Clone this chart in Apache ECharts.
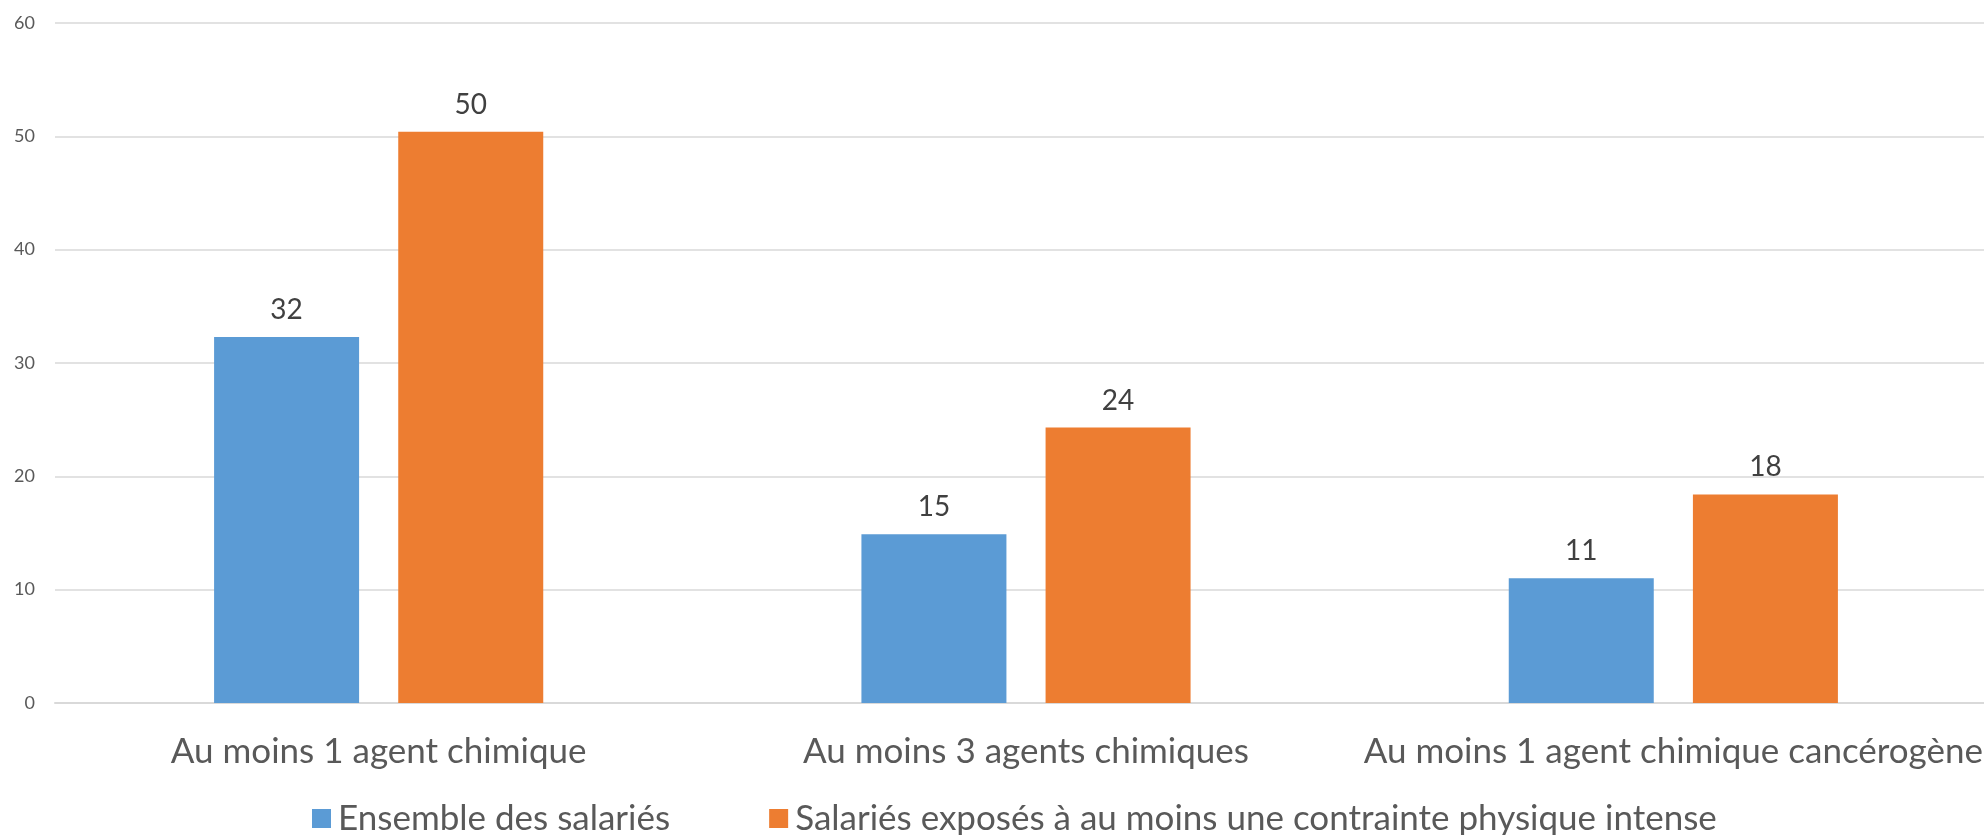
<!DOCTYPE html>
<html><head><meta charset="utf-8">
<script src="https://cdn.jsdelivr.net/npm/echarts@6/dist/echarts.min.js"></script>
<style>html,body{margin:0;padding:0;background:#fff;overflow:hidden;width:1984px;height:835px}#c{width:1997px;height:835px}</style>
</head><body><div id="c"></div>
<script>
const categories = ["Au moins 1 agent chimique", "Au moins 3 agents chimiques", "Au moins 1 agent chimique cancérogène"];
const seriesNames = ["Ensemble des salariés", "Salariés exposés à au moins une contrainte physique intense"];
const ensemble = [32.3, 14.9, 11.0];
const exposes = [50.4, 24.3, 18.4];
const yTicks = [0, 10, 20, 30, 40, 50, 60];

const font = "Lato, 'Open Sans', sans-serif";
const chart = echarts.init(document.getElementById('c'), null, {renderer: 'canvas'});
const lbl = {show: true, position: 'top', distance: 13, color: '#404040', fontSize: 28, fontFamily: font,
  formatter: p => Math.round(p.value)};
chart.setOption({
  animation: false,
  textStyle: {fontFamily: font},
  grid: {left: 55, right: 0, top: 23, bottom: 132, containLabel: false},
  legend: {
    data: seriesNames, bottom: -6, left: 307, icon: 'rect', itemWidth: 19, itemHeight: 19,
    itemGap: 99, textStyle: {fontSize: 35, color: '#595959', fontFamily: font, padding: [0, 0, 0, 2]}
  },
  xAxis: {
    type: 'category', data: categories,
    axisLine: {lineStyle: {color: '#d9d9d9', width: 2}},
    axisTick: {show: false},
    axisLabel: {color: '#595959', fontSize: 35, fontFamily: font, margin: 31, interval: 0}
  },
  yAxis: {
    type: 'value', min: yTicks[0], max: yTicks[yTicks.length - 1], interval: 10,
    axisLine: {show: false}, axisTick: {show: false},
    splitLine: {lineStyle: {color: '#d9d9d9', width: 1.5}},
    axisLabel: {color: '#595959', fontSize: 18, fontFamily: font, margin: 20}
  },
  series: [
    {name: seriesNames[0], type: 'bar', data: ensemble, barWidth: '22.4%', barGap: '27%',
     itemStyle: {color: '#5b9bd5'}, label: lbl},
    {name: seriesNames[1], type: 'bar', data: exposes, barWidth: '22.4%', barGap: '27%',
     itemStyle: {color: '#ed7d31'}, label: lbl}
  ]
});
</script></body></html>
